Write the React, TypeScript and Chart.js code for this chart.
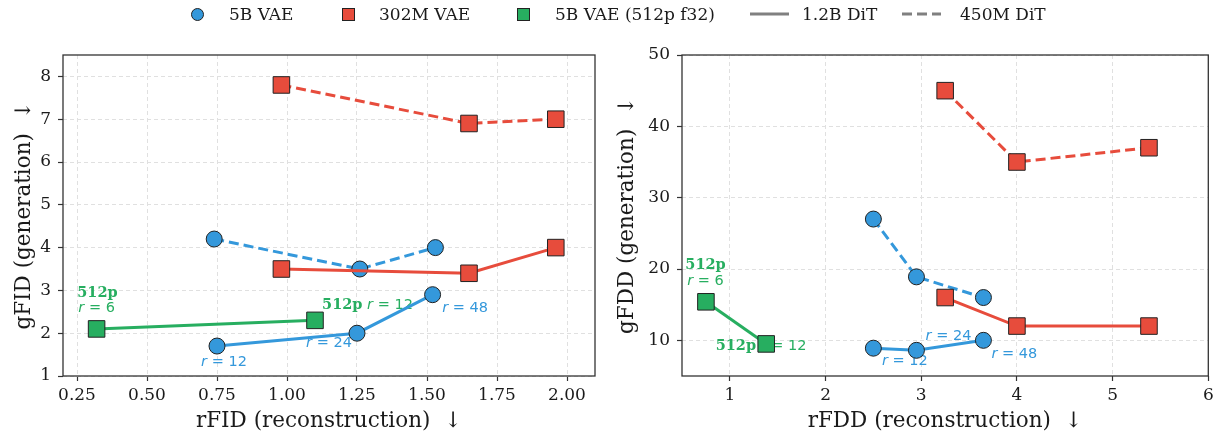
import React, { useEffect, useRef } from 'react';
import { Chart, registerables } from 'chart.js';

Chart.register(...registerables);

const BLUE = '#3498db';
const RED = '#e74c3c';
const GREEN = '#27ae60';
const INK = '#1a1a1a';
const SERIF = '"DejaVu Serif", serif';
const SANS = '"DejaVu Sans", sans-serif';

// ---------- Left panel: rFID vs gFID ----------
const fidTicksX = [0.25, 0.5, 0.75, 1.0, 1.25, 1.5, 1.75, 2.0];
const fidTicksY = [1, 2, 3, 4, 5, 6, 7, 8];
const fid5B_12B_r = [0.75, 1.25, 1.52];
const fid5B_12B_g = [1.7, 2.0, 2.9];
const fid5B_450M_r = [0.74, 1.26, 1.53];
const fid5B_450M_g = [4.2, 3.5, 4.0];
const fid302_12B_r = [0.98, 1.65, 1.96];
const fid302_12B_g = [3.5, 3.4, 4.0];
const fid302_450M_r = [0.98, 1.65, 1.96];
const fid302_450M_g = [7.8, 6.9, 7.0];
const fid512_r = [0.32, 1.1];
const fid512_g = [2.1, 2.3];

// ---------- Right panel: rFDD vs gFDD ----------
const fddTicksX = [1, 2, 3, 4, 5, 6];
const fddTicksY = [10, 20, 30, 40, 50];
const fdd5B_12B_r = [2.5, 2.95, 3.65];
const fdd5B_12B_g = [8.9, 8.6, 10.0];
const fdd5B_450M_r = [2.5, 2.95, 3.65];
const fdd5B_450M_g = [27, 18.9, 16];
const fdd302_12B_r = [3.25, 4.0, 5.38];
const fdd302_12B_g = [16, 12, 12];
const fdd302_450M_r = [3.25, 4.0, 5.38];
const fdd302_450M_g = [45, 35, 37];
const fdd512_r = [0.75, 1.38];
const fdd512_g = [15.4, 9.5];

// annotation parts: [text, style] where b = bold serif, i = italic sans, n = sans
type Part = [string, 'b' | 'i' | 'n'];
type Note = { x: number; y: number; color: string; parts: Part[] };

const fidNotes: Note[] = [
  { x: 0.323, y: 2.94, color: GREEN, parts: [['512p', 'b']] },
  { x: 0.32, y: 2.59, color: GREEN, parts: [['r', 'i'], [' = 6', 'n']] },
  { x: 1.2875, y: 2.657, color: GREEN, parts: [['512p', 'b'], [' ', 'n'], ['r', 'i'], [' = 12', 'n']] },
  { x: 0.775, y: 1.327, color: BLUE, parts: [['r', 'i'], [' = 12', 'n']] },
  { x: 1.15, y: 1.77, color: BLUE, parts: [['r', 'i'], [' = 24', 'n']] },
  { x: 1.636, y: 2.594, color: BLUE, parts: [['r', 'i'], [' = 48', 'n']] },
];

const fddNotes: Note[] = [
  { x: 0.746, y: 20.53, color: GREEN, parts: [['512p', 'b']] },
  { x: 0.746, y: 18.32, color: GREEN, parts: [['r', 'i'], [' = 6', 'n']] },
  { x: 1.326, y: 9.16, color: GREEN, parts: [['512p', 'b'], [' ', 'n'], ['r', 'i'], [' = 12', 'n']] },
  { x: 2.829, y: 7.05, color: BLUE, parts: [['r', 'i'], [' = 12', 'n']] },
  { x: 3.285, y: 10.56, color: BLUE, parts: [['r', 'i'], [' = 24', 'n']] },
  { x: 3.974, y: 8.04, color: BLUE, parts: [['r', 'i'], [' = 48', 'n']] },
];

const NOTE_FONTS: Record<string, string> = {
  b: `bold 14.5px ${SERIF}`,
  i: `oblique 14.5px ${SANS}`,
  n: `14.5px ${SANS}`,
};

function series(xs: number[], ys: number[], color: string, shape: 'circle' | 'rect', dashed: boolean) {
  return {
    data: xs.map((x, i) => ({ x, y: ys[i] })),
    showLine: true,
    borderColor: color,
    backgroundColor: color,
    borderWidth: 3,
    borderDash: dashed ? [10, 5] : [],
    pointStyle: shape,
    pointRadius: shape === 'circle' ? 8 : 11.7,
    pointBackgroundColor: color,
    pointBorderColor: '#222',
    pointBorderWidth: 1,
    tension: 0,
  };
}

const notesPlugin = {
  id: 'notes',
  beforeDatasetsDraw(chart: any, _args: any, opts: any) {
    const ctx = chart.ctx as CanvasRenderingContext2D;
    const xs = chart.scales.x;
    const ys = chart.scales.y;
    ctx.save();
    ctx.textBaseline = 'middle';
    ctx.textAlign = 'left';
    for (const n of opts.items as Note[]) {
      const px = xs.getPixelForValue(n.x);
      const py = ys.getPixelForValue(n.y);
      let total = 0;
      const widths = n.parts.map(([t, f]) => {
        ctx.font = NOTE_FONTS[f];
        const w = ctx.measureText(t).width;
        total += w;
        return w;
      });
      let cx = px - total / 2;
      ctx.fillStyle = n.color;
      n.parts.forEach(([t, f], i) => {
        ctx.font = NOTE_FONTS[f];
        ctx.fillText(t, cx, py);
        cx += widths[i];
      });
    }
    ctx.restore();
  },
};

const framePlugin = {
  id: 'frame',
  afterDraw(chart: any) {
    const { ctx, chartArea } = chart;
    ctx.save();
    ctx.strokeStyle = '#333';
    ctx.lineWidth = 1.3;
    ctx.strokeRect(chartArea.left, chartArea.top, chartArea.right - chartArea.left, chartArea.bottom - chartArea.top);
    ctx.restore();
  },
};

type PanelSpec = {
  xMin: number; xMax: number; yMin: number; yMax: number;
  xTicks: number[]; yTicks: number[];
  xFmt: (v: number) => string;
  xTitle: string; yTitle: string;
  yAxisWidth: number; padRight: number; yTitlePad: number;
  datasets: any[]; notes: Note[];
};

function axis(min: number, max: number, ticks: number[], fmt: (v: number) => string, title: string, horizontal: boolean, size: number, titlePad: number) {
  return {
    type: 'linear',
    min,
    max,
    afterBuildTicks: (s: any) => { s.ticks = ticks.map((v) => ({ value: v })); },
    afterFit: (s: any) => { if (horizontal) s.height = size; else s.width = size; },
    grid: {
      color: '#e0e0e0',
      lineWidth: 1,
      drawTicks: true,
      tickLength: 5,
      tickColor: '#333',
      tickWidth: 1.2,
      tickBorderDash: [],
    },
    border: { display: false, dash: [4, 3] },
    ticks: {
      color: INK,
      font: { family: SERIF, size: 17 },
      padding: horizontal ? 4 : 7,
      maxRotation: 0,
      autoSkip: false,
      callback: (v: any) => fmt(Number(v)),
    },
    title: {
      display: true,
      text: title,
      color: INK,
      font: { family: SERIF, size: 21.5, lineHeight: 1 },
      padding: horizontal ? { top: 0, bottom: 0.5 } : { top: titlePad, bottom: 0 },
    },
  };
}

function buildConfig(p: PanelSpec): any {
  return {
    type: 'scatter',
    data: { datasets: p.datasets },
    options: {
      responsive: false,
      animation: false,
      events: [],
      layout: { padding: { top: 55, right: p.padRight, left: 0, bottom: 0 } },
      plugins: {
        legend: { display: false },
        tooltip: { enabled: false },
        notes: { items: p.notes },
      },
      scales: {
        x: axis(p.xMin, p.xMax, p.xTicks, p.xFmt, p.xTitle, true, 57, 0),
        y: axis(p.yMin, p.yMax, p.yTicks, (v) => String(v), p.yTitle, false, p.yAxisWidth, p.yTitlePad),
      },
    },
    plugins: [notesPlugin, framePlugin],
  };
}

const fidPanel: PanelSpec = {
  xMin: 0.2, xMax: 2.1, yMin: 1, yMax: 8.5,
  xTicks: fidTicksX, yTicks: fidTicksY,
  xFmt: (v) => v.toFixed(2),
  xTitle: 'rFID (reconstruction)  ↓', yTitle: 'gFID (generation)  ↓',
  yAxisWidth: 63, padRight: 15, yTitlePad: 13.5,
  datasets: [
    series(fid512_r, fid512_g, GREEN, 'rect', false),
    series(fid302_12B_r, fid302_12B_g, RED, 'rect', false),
    series(fid302_450M_r, fid302_450M_g, RED, 'rect', true),
    series(fid5B_450M_r, fid5B_450M_g, BLUE, 'circle', true),
    series(fid5B_12B_r, fid5B_12B_g, BLUE, 'circle', false),
  ],
  notes: fidNotes,
};

const fddPanel: PanelSpec = {
  xMin: 0.5, xMax: 6, yMin: 5, yMax: 50,
  xTicks: fddTicksX, yTicks: fddTicksY,
  xFmt: (v) => String(v),
  xTitle: 'rFDD (reconstruction)  ↓', yTitle: 'gFDD (generation)  ↓',
  yAxisWidth: 72, padRight: 8, yTitlePad: 7,
  datasets: [
    series(fdd512_r, fdd512_g, GREEN, 'rect', false),
    series(fdd302_12B_r, fdd302_12B_g, RED, 'rect', false),
    series(fdd302_450M_r, fdd302_450M_g, RED, 'rect', true),
    series(fdd5B_450M_r, fdd5B_450M_g, BLUE, 'circle', true),
    series(fdd5B_12B_r, fdd5B_12B_g, BLUE, 'circle', false),
  ],
  notes: fddNotes,
};

const legendText: React.CSSProperties = {
  position: 'absolute',
  top: 5.5,
  fontFamily: SERIF,
  fontSize: 17,
  lineHeight: '17px',
  color: INK,
  whiteSpace: 'pre',
};

function marker(left: number, color: string, round: boolean): React.CSSProperties {
  return {
    position: 'absolute',
    left,
    top: 7.5,
    width: 13,
    height: 13,
    boxSizing: 'border-box',
    background: color,
    border: '1px solid #222',
    borderRadius: round ? '50%' : 0,
  };
}

function Legend() {
  return (
    <>
      <div style={marker(190.5, BLUE, true)} />
      <span style={{ ...legendText, left: 229 }}>5B VAE</span>
      <div style={marker(342, RED, false)} />
      <span style={{ ...legendText, left: 379 }}>302M VAE</span>
      <div style={marker(516.5, GREEN, false)} />
      <span style={{ ...legendText, left: 555 }}>5B VAE (512p f32)</span>
      <svg style={{ position: 'absolute', left: 750, top: 9, width: 40, height: 10 }}>
        <line x1={0} y1={5} x2={39} y2={5} stroke="#808080" strokeWidth={3} />
      </svg>
      <span style={{ ...legendText, left: 802 }}>1.2B DiT</span>
      <svg style={{ position: 'absolute', left: 902, top: 9, width: 40, height: 10 }}>
        <line x1={0} y1={5} x2={39} y2={5} stroke="#808080" strokeWidth={3} strokeDasharray="10 5" />
      </svg>
      <span style={{ ...legendText, left: 960 }}>450M DiT</span>
    </>
  );
}

export default function App() {
  const leftRef = useRef<HTMLCanvasElement>(null);
  const rightRef = useRef<HTMLCanvasElement>(null);

  useEffect(() => {
    const c1 = new Chart(leftRef.current as HTMLCanvasElement, buildConfig(fidPanel));
    const c2 = new Chart(rightRef.current as HTMLCanvasElement, buildConfig(fddPanel));
    return () => {
      c1.destroy();
      c2.destroy();
    };
  }, []);

  return (
    <div style={{ position: 'absolute', left: 0, top: 0, width: 1221, height: 433, background: '#fff', overflow: 'hidden' }}>
      <canvas ref={leftRef} width={610} height={433} style={{ position: 'absolute', left: 0, top: 0, width: 610, height: 433 }} />
      <canvas ref={rightRef} width={611} height={433} style={{ position: 'absolute', left: 610, top: 0, width: 611, height: 433 }} />
      <Legend />
    </div>
  );
}
